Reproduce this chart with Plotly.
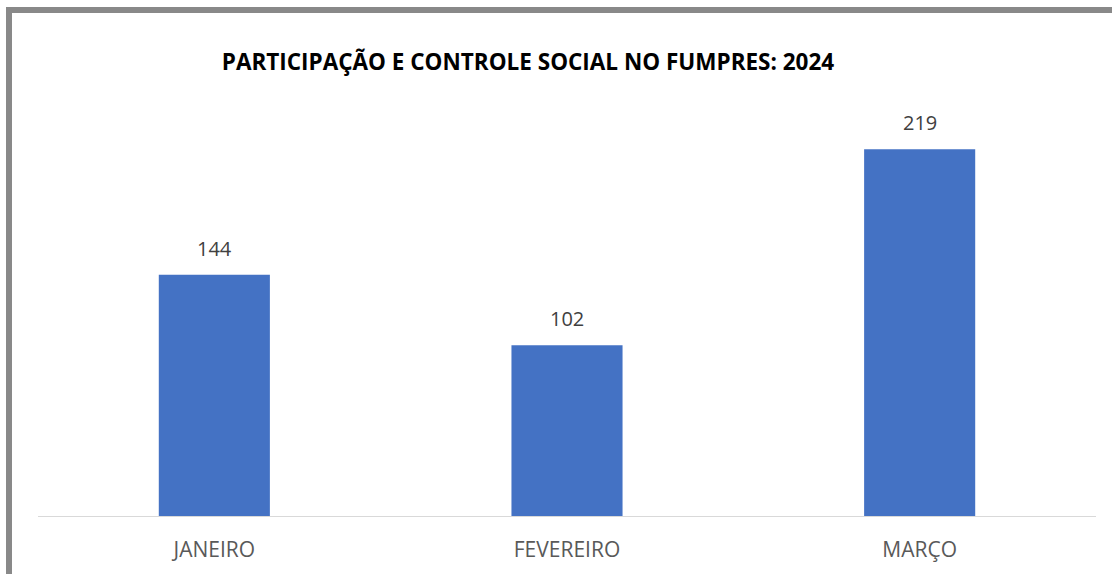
import plotly.graph_objects as go

categories = ["JANEIRO", "FEVEREIRO", "MARÇO"]
values = [144, 102, 219]
title_text = "PARTICIPAÇÃO E CONTROLE SOCIAL NO FUMPRES: 2024"

W, H = 1112, 574
ml, mr, mt, mb = 38, 16, 97, 58
pw = W - ml - mr
ph = H - mt - mb

fig = go.Figure(go.Bar(
    x=categories, y=values,
    marker=dict(color="#4472C4", line=dict(width=0)),
    width=0.315,
    hoverinfo="skip",
))

for c, v in zip(categories, values):
    fig.add_annotation(x=c, y=v, text=str(v), showarrow=False,
                       yanchor="bottom", yshift=11,
                       font=dict(family="Open Sans", size=20, color="#404040"))

# outer border (extends beyond right/bottom edges)
bx0 = (9 - ml) / pw
by1 = (H - mb - 10) / ph
fig.add_shape(type="rect", xref="paper", yref="paper",
              x0=bx0, x1=1.2, y0=-0.5, y1=by1,
              line=dict(color="#898989", width=6), fillcolor="rgba(0,0,0,0)",
              layer="below")

fig.update_layout(
    width=W, height=H,
    margin=dict(l=ml, r=mr, t=mt, b=mb),
    paper_bgcolor="white", plot_bgcolor="white",
    showlegend=False,
    title=dict(text="<b>" + title_text + "</b>", x=528 / W, xanchor="center",
               y=1 - 62 / H, yanchor="middle",
               font=dict(family="Open Sans", size=22.5, color="#000000")),
    xaxis=dict(showline=True, linecolor="#D9D9D9", linewidth=1,
               ticks="", ticklabelstandoff=15,
               tickfont=dict(family="Open Sans", size=21, color="#595959"),
               showgrid=False, zeroline=False, fixedrange=True),
    yaxis=dict(range=[0, ph / 1.675], visible=False, showgrid=False,
               zeroline=False, fixedrange=True),
)

fig.write_html("out.html", config={"displayModeBar": False},
               post_script="document.body.style.margin='0';")
